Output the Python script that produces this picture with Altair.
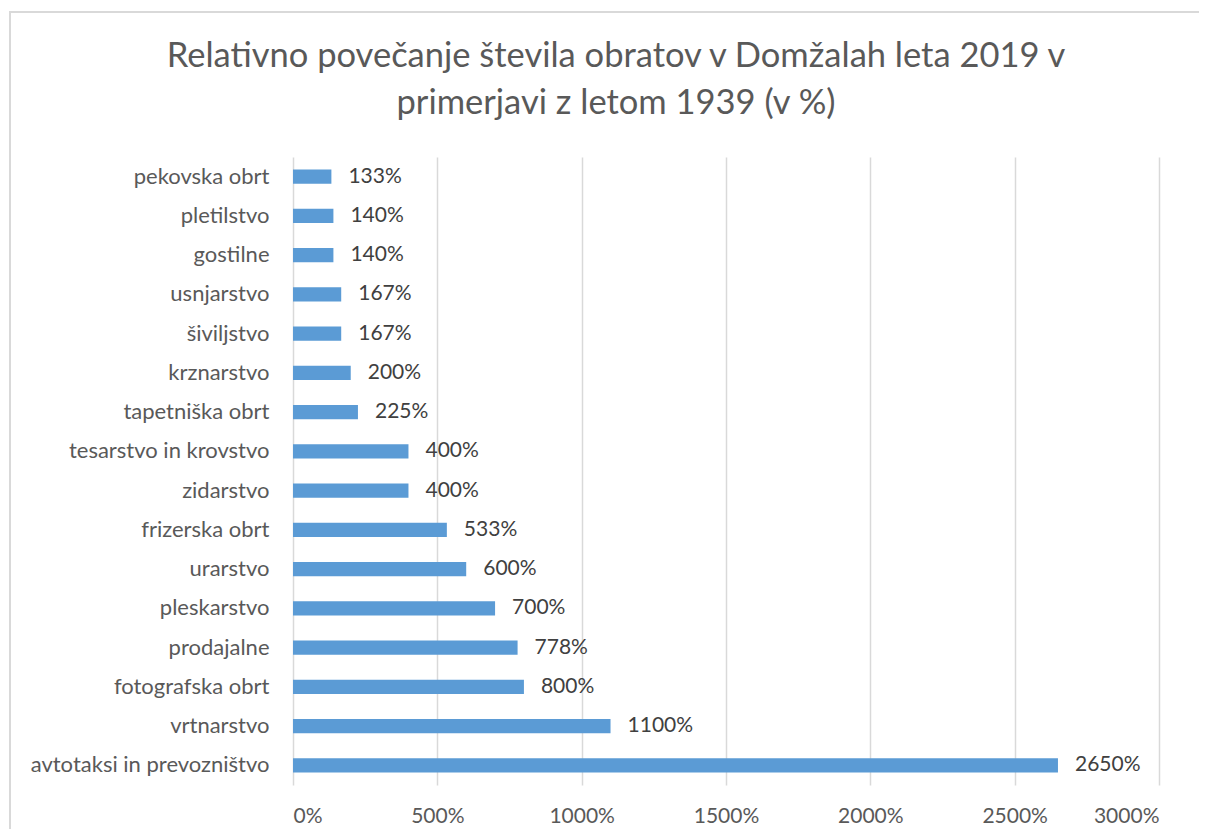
import altair as alt
import pandas as pd

categories = [
    "pekovska obrt", "pletilstvo", "gostilne", "usnjarstvo", "šiviljstvo",
    "krznarstvo", "tapetniška obrt", "tesarstvo in krovstvo", "zidarstvo",
    "frizerska obrt", "urarstvo", "pleskarstvo", "prodajalne",
    "fotografska obrt", "vrtnarstvo", "avtotaksi in prevozništvo",
]
values = [133, 140, 140, 167, 167, 200, 225, 400, 400, 533, 600, 700, 778, 800, 1100, 2650]
x_ticks = [0, 500, 1000, 1500, 2000, 2500, 3000]

df = pd.DataFrame({"kategorija": categories, "vrednost": values})
df["oznaka"] = df["vrednost"].astype(str) + "%"

W, H = 866, 628
FONT = "Lato"

x = alt.X(
    "vrednost:Q",
    scale=alt.Scale(domain=[0, 3000], nice=False),
    axis=alt.Axis(
        values=x_ticks, labelExpr="datum.value + '%'", title=None,
        grid=True, gridColor="#d9d9d9", gridWidth=1.5, domain=False, ticks=False,
        labelFont=FONT, labelFontSize=21, labelColor="#595959",
        labelPadding=20, labelBaseline="top",
    ),
)
y = alt.Y(
    "kategorija:N", sort=categories,
    scale=alt.Scale(paddingInner=0.64, paddingOuter=0.32),
    axis=alt.Axis(
        title=None, domain=False, ticks=False, grid=False,
        labelFont=FONT, labelFontSize=22, labelColor="#595959", labelPadding=24,
        labelLimit=400,
    ),
)

bars = alt.Chart(df).mark_bar(color="#5B9BD5").encode(x=x, y=y)
labels = alt.Chart(df).mark_text(
    align="left", baseline="middle", dx=17, font=FONT, fontSize=21, color="#404040"
).encode(x="vrednost:Q", y=alt.Y("kategorija:N", sort=categories), text="oznaka:N")

frame_df = pd.DataFrame({"a": [0]})
border_top = alt.Chart(frame_df).mark_rule(
    stroke="#d9d9d9", strokeWidth=2, clip=False
).encode(x=alt.value(-284), x2=alt.value(W + 100),
         y=alt.value(-145), y2=alt.value(-145))
border_left = alt.Chart(frame_df).mark_rule(
    stroke="#d9d9d9", strokeWidth=2, clip=False
).encode(x=alt.value(-283), x2=alt.value(-283),
         y=alt.value(-146), y2=alt.value(H + 80))

chart = alt.layer(border_top, border_left, bars, labels).properties(
    width=W, height=H,
    autosize=alt.AutoSizeParams(type="none"),
    padding={"left": 285, "top": 149, "right": 40, "bottom": 44},
    title=alt.TitleParams(
        text=["Relativno povečanje števila obratov v Domžalah leta 2019 v",
              "primerjavi z letom 1939 (v %)"],
        font=FONT, fontSize=34.5, fontWeight="normal", color="#595959",
        anchor="middle", frame="group", dx=-110, offset=-111, lineHeight=47,
    ),
).configure_view(stroke=None)

chart.save("out.html", embed_options={"renderer": "svg", "actions": False})
